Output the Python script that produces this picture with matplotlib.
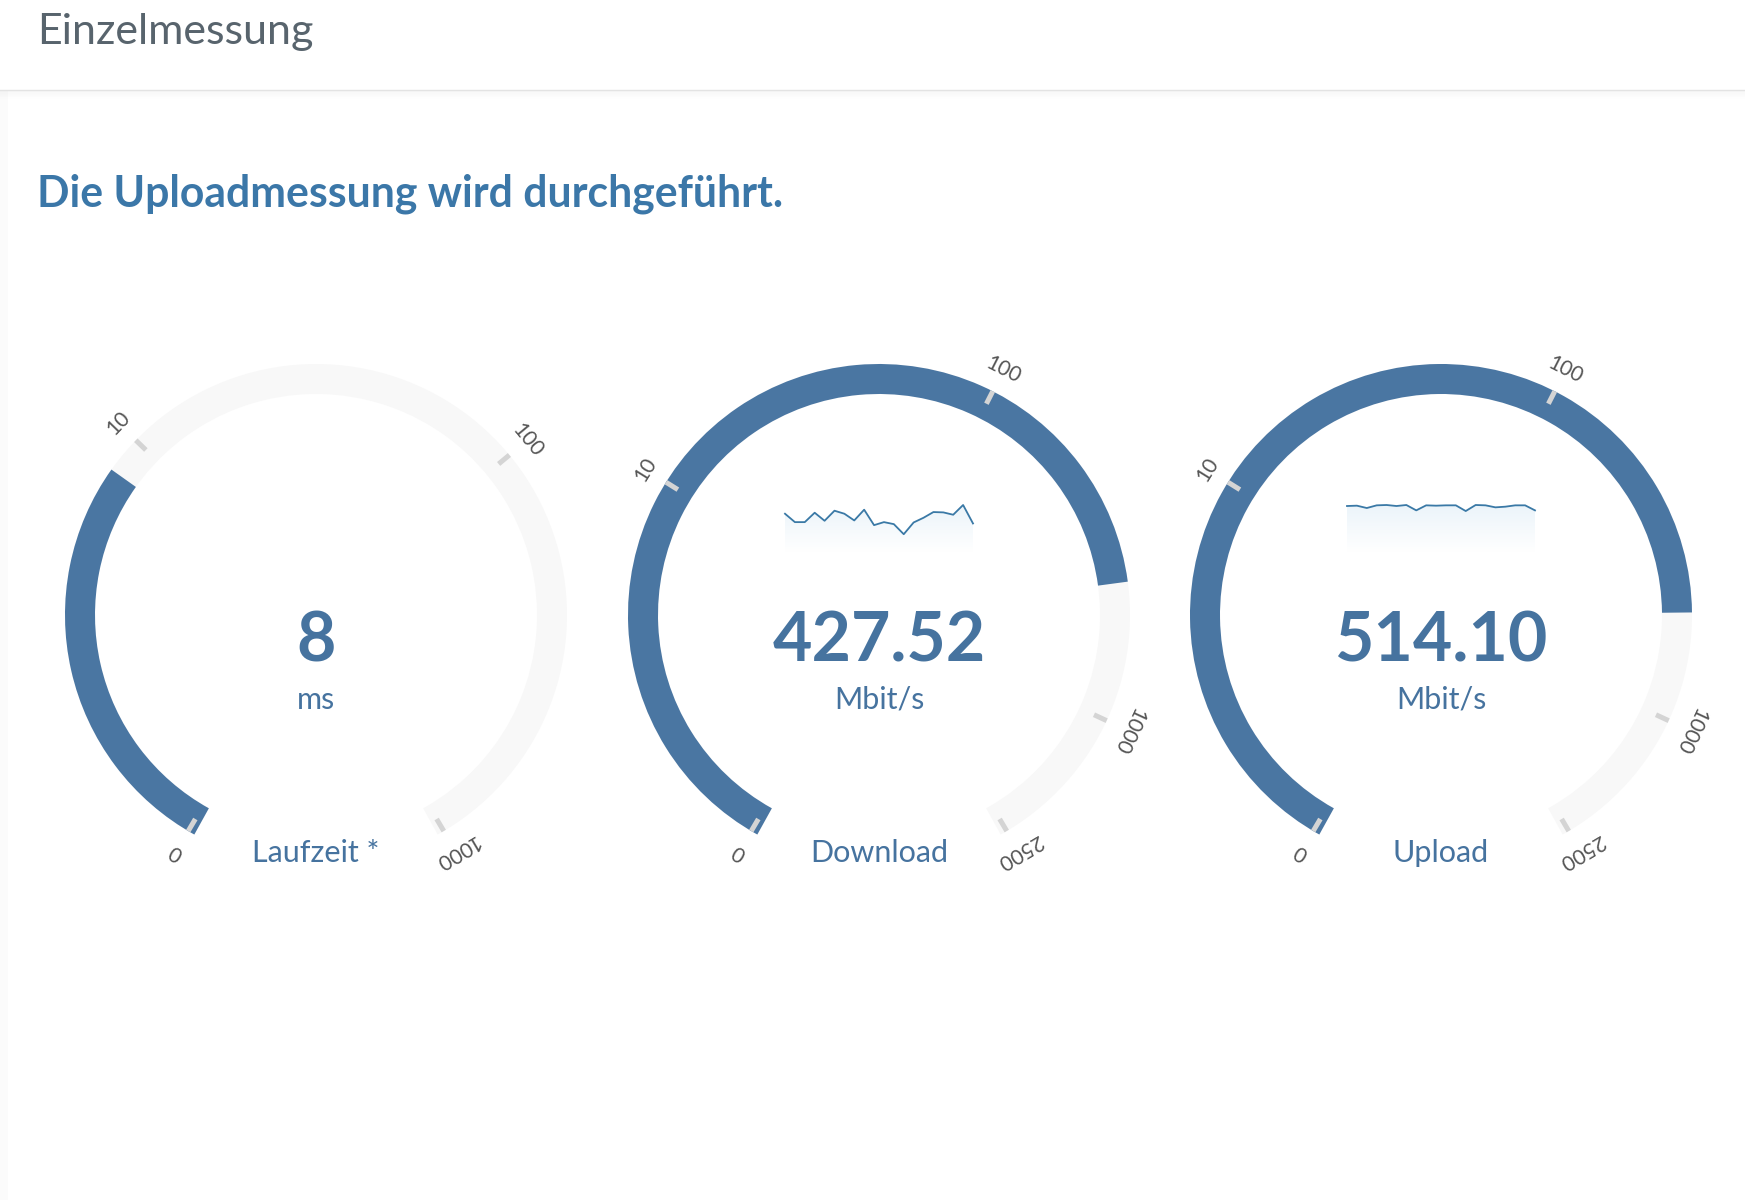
"""
Speed test gauges (Einzelmessung)
"""

import numpy as np
import matplotlib.pyplot as plt
from matplotlib.patches import Wedge, Rectangle
from matplotlib.colors import LinearSegmentedColormap

W, H = 1745, 1200

# gauge data
gauge_labels = ['Laufzeit *', 'Download', 'Upload']
gauge_values = [8, 427.52, 514.10]
value_texts = ['8', '427.52', '514.10']
gauge_units = ['ms', 'Mbit/s', 'Mbit/s']
scale_max = [1000, 2500, 2500]
gauge_ticks = [[0, 10, 100, 1000],
               [0, 10, 100, 1000, 2500],
               [0, 10, 100, 1000, 2500]]

# sparkline history (relative height)
download_history = [114, 89, 89, 117, 93, 123, 114, 94, 126, 80,
                    89, 83, 53, 88, 102, 119, 118, 111, 140, 85]
upload_history = [137, 138, 131, 139, 140, 137, 140, 124, 139, 138,
                  139, 139, 122, 140, 139, 133, 135, 139, 139, 124]

BLUE = '#4a76a2'
TRACK = '#f8f8f8'
TICK = '#d4d4d4'
TEXT_BLUE = '#46739f'
FONT = 'Lato'

START, SWEEP = 240, 300
R_OUT, R_IN = 251, 221
centers_x = [316, 879, 1441]
cy = 615


def angle(v, vmax):
    # log-like gauge scale
    return START - SWEEP * np.log10(v + 1) / np.log10(vmax + 1)


fig = plt.figure(figsize=(W / 100, H / 100), dpi=100)
ax = fig.add_axes([0, 0, 1, 1])
ax.set_xlim(0, W)
ax.set_ylim(H, 0)
ax.axis('off')


def arc(cx, a_from, a_to, color):
    # y axis is inverted, so screen angle a is data angle -a
    ax.add_patch(Wedge((cx, cy), R_OUT, -a_from, -a_to,
                       width=R_OUT - R_IN, facecolor=color, lw=0))


# header
ax.text(37, 44, 'Einzelmessung', va='baseline', ha='left', fontsize=31,
        color='#58646d', family=FONT)
ax.axhline(90, color='#e4e4e4', lw=1)
for i in range(8):
    ax.axhline(91 + i, color='black', alpha=0.02 * (8 - i) / 8, lw=1)
ax.add_patch(Rectangle((0, 91), 8, H - 91, facecolor='#fbfbfb', lw=0))
ax.text(37, 206, 'Die Uploadmessung wird durchgeführt.', va='baseline',
        ha='left', fontsize=30.8, fontweight='bold', color='#3b77a8',
        family=FONT)

for cx, lab, val, vtxt, unit, vmax, ticks in zip(
        centers_x, gauge_labels, gauge_values, value_texts, gauge_units,
        scale_max, gauge_ticks):
    arc(cx, START + 1, START - SWEEP - 1, TRACK)
    arc(cx, START + 1, angle(val, vmax), BLUE)

    for t in ticks:
        a = angle(t, vmax)
        if t == 0:
            a -= 0.6
        if t == vmax:
            a += 0.6
        ca, sa = np.cos(np.radians(a)), np.sin(np.radians(a))
        ax.plot([cx + 237 * ca, cx + 251 * ca], [cy - 237 * sa, cy - 251 * sa],
                color=TICK, lw=3.6, solid_capstyle='butt')
        ax.text(cx + 275 * ca, cy - 275 * sa, str(t), rotation=a - 90,
                rotation_mode='anchor', ha='center', va='center',
                fontsize=15, color='#555555', family=FONT)

    ax.text(cx, 662, vtxt, ha='center', va='baseline', fontsize=49,
            fontweight='bold', color=TEXT_BLUE, family=FONT)
    ax.text(cx, 709, unit, ha='center', va='baseline', fontsize=22,
            color=TEXT_BLUE, family=FONT)
    ax.text(cx, 862, lab, ha='center', va='baseline', fontsize=22,
            color=TEXT_BLUE, family=FONT)

# sparklines inside download / upload gauges
cmap = LinearSegmentedColormap.from_list('spark', ['#ffffff', '#ebf4fa'])
for cx, hist in [(centers_x[1], download_history), (centers_x[2], upload_history)]:
    sax = fig.add_axes([(cx - 94) / W, 1 - 552 / H, 188 / W, 47 / H])
    xs = np.arange(len(hist))
    sax.set_xlim(0, len(hist) - 1)
    sax.set_ylim(0, 140)
    sax.axis('off')
    poly = sax.fill_between(xs, hist, 0, facecolor='none', lw=0)
    grad = np.linspace(1, 0, 100).reshape(-1, 1)
    im = sax.imshow(grad, extent=[0, len(hist) - 1, 0, 140], aspect='auto',
                    cmap=cmap, vmin=0, vmax=1, origin='upper')
    im.set_clip_path(poly.get_paths()[0], transform=sax.transData)
    sax.plot(xs, hist, color='#3a79a6', lw=1.3, clip_on=False)

fig.savefig('out.png', dpi=100, facecolor='white')
